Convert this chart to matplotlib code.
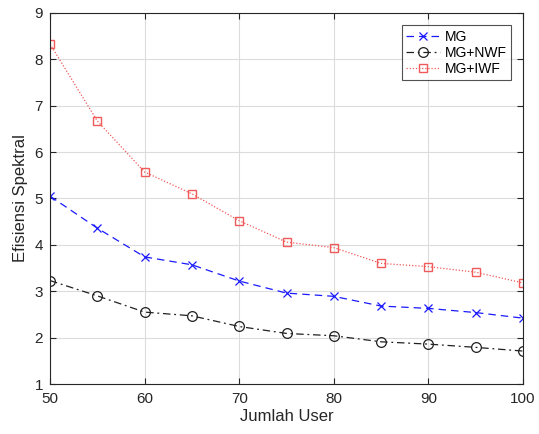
import matplotlib
matplotlib.use("Agg")
import matplotlib.pyplot as plt

users = [50, 55, 60, 65, 70, 75, 80, 85, 90, 95, 100]
mg = [5.05, 4.36, 3.74, 3.57, 3.22, 2.96, 2.89, 2.68, 2.63, 2.54, 2.42]
mg_nwf = [3.23, 2.90, 2.55, 2.47, 2.24, 2.09, 2.04, 1.91, 1.86, 1.79, 1.71]
mg_iwf = [8.33, 6.67, 5.57, 5.10, 4.52, 4.06, 3.94, 3.60, 3.53, 3.41, 3.18]
xticks = [50, 60, 70, 80, 90, 100]
yticks = [1, 2, 3, 4, 5, 6, 7, 8, 9]

plt.rcParams['font.family'] = ['Liberation Sans', 'DejaVu Sans']
fig = plt.figure(figsize=(5.39, 4.34), dpi=100)
ax = fig.add_axes([0.0928, 0.1152, 0.8775, 0.855])

ax.plot(users, mg, color='#1a1aff', linestyle=(0, (6, 4)), lw=0.9,
        marker='x', ms=6, mew=0.9, label='MG')
ax.plot(users, mg_nwf, color='#202020', linestyle=(0, (6, 3, 1.5, 3)), lw=0.9,
        marker='o', ms=7, mfc='none', mew=0.9, label='MG+NWF')
ax.plot(users, mg_iwf, color='#f05a5a', linestyle=(0, (1, 1.5)), lw=0.9,
        marker='s', ms=6, mfc='none', mew=1.0, label='MG+IWF')

ax.set_xlim(50, 100)
ax.set_ylim(1, 9)
ax.set_xticks(xticks)
ax.set_yticks(yticks)
ax.grid(True, color='#dcdcdc', lw=0.8)
ax.set_axisbelow(True)
ax.tick_params(direction='in', top=True, right=True, labelsize=11, colors='#262626', length=4)
ax.tick_params(axis='x', pad=6)
ax.tick_params(axis='y', pad=5)
for s in ax.spines.values():
    s.set_color('#262626')
    s.set_linewidth(0.8)
ax.set_xlabel('Jumlah User', fontsize=12, color='#262626', labelpad=2)
ax.set_ylabel('Efisiensi Spektral', fontsize=12, color='#262626', labelpad=5)

leg = ax.legend(loc='upper right', bbox_to_anchor=(0.99, 0.985), fontsize=10,
                frameon=True, fancybox=False, edgecolor='#262626',
                handlelength=2.4, borderpad=0.3, labelspacing=0.15, handletextpad=0.4)
leg.get_frame().set_linewidth(0.8)

fig.savefig('out.png', dpi=100)
